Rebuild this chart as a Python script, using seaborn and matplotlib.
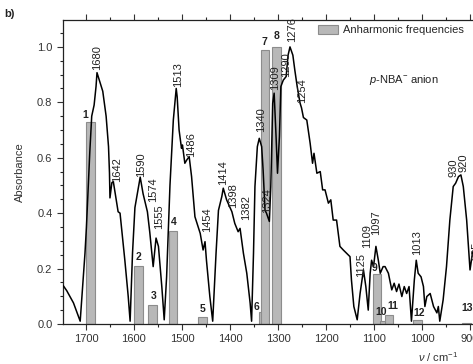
import numpy as np
import pandas as pd
import matplotlib
matplotlib.use("Agg")
import matplotlib.pyplot as plt
import seaborn as sns
from matplotlib.ticker import MultipleLocator
from matplotlib.patches import Patch

# ---------------- data ----------------
wavenumber = [1748, 1740, 1726, 1712, 1702, 1699, 1692, 1688, 1683, 1679, 1677, 1669, 1665,
              1658, 1653, 1651, 1650, 1646, 1643, 1637, 1633, 1629, 1626, 1619, 1612, 1608,
              1603, 1598, 1594, 1587, 1581, 1574, 1572, 1567, 1560, 1554, 1549, 1542, 1537,
              1532, 1525, 1518, 1512, 1510, 1506, 1501, 1499, 1494, 1490, 1485, 1480, 1473,
              1462, 1456, 1452, 1449, 1442, 1436, 1429, 1424, 1417, 1414, 1407, 1404, 1396,
              1390, 1383, 1379, 1372, 1365, 1358, 1355, 1351, 1348, 1343, 1339, 1334, 1331,
              1327, 1324, 1318, 1315, 1311, 1308, 1304, 1301, 1297, 1294, 1289, 1283, 1279,
              1275, 1269, 1265, 1260, 1254, 1251, 1247, 1240, 1233, 1228, 1225, 1219, 1212,
              1207, 1202, 1195, 1190, 1185, 1178, 1171, 1164, 1157, 1150, 1147, 1142, 1135,
              1129, 1122, 1117, 1112, 1108, 1105, 1101, 1096, 1091, 1087, 1081, 1077, 1070,
              1063, 1058, 1053, 1048, 1042, 1037, 1032, 1027, 1022, 1016, 1012, 1008, 1002,
              997, 994, 990, 983, 976, 969, 966, 963, 956, 949, 942, 935, 930, 924, 919, 914,
              907, 900, 895, 885]
absorbance = [0.14, 0.12, 0.076, 0.01, 0.256, 0.35, 0.62, 0.75, 0.79, 0.857, 0.907, 0.863, 0.84,
              0.75, 0.64, 0.545, 0.455, 0.51, 0.514, 0.448, 0.405, 0.40, 0.35, 0.23, 0.10, 0.01,
              0.256, 0.42, 0.46, 0.53, 0.47, 0.42, 0.405, 0.33, 0.207, 0.31, 0.28, 0.135, 0.015,
              0.17, 0.50, 0.736, 0.85, 0.82, 0.70, 0.634, 0.646, 0.58, 0.592, 0.604, 0.532, 0.387,
              0.327, 0.267, 0.297, 0.23, 0.10, 0.01, 0.256, 0.41, 0.46, 0.49, 0.448, 0.436, 0.405,
              0.363, 0.333, 0.345, 0.255, 0.183, 0.075, 0.01, 0.255, 0.496, 0.64, 0.67, 0.64, 0.556,
              0.41, 0.40, 0.37, 0.496, 0.797, 0.833, 0.676, 0.544, 0.676, 0.857, 0.88, 0.893, 0.97,
              1.0, 0.97, 0.917, 0.857, 0.797, 0.78, 0.745, 0.736, 0.652, 0.58, 0.616, 0.544, 0.55,
              0.484, 0.484, 0.436, 0.448, 0.375, 0.375, 0.28, 0.267, 0.255, 0.243, 0.159, 0.063, 0.015,
              0.11, 0.195, 0.135, 0.05, 0.183, 0.23, 0.207, 0.28, 0.23, 0.183, 0.207, 0.207, 0.183,
              0.123, 0.147, 0.117, 0.144, 0.099, 0.135, 0.11, 0.135, 0.01, 0.159, 0.23, 0.183, 0.17,
              0.135, 0.063, 0.099, 0.11, 0.063, 0.04, 0.063, 0.01, 0.087, 0.207, 0.375, 0.496, 0.508,
              0.532, 0.538, 0.496, 0.375, 0.195, 0.255, 0.30]

# anharmonic frequencies (bars)
bar_ids = ["1", "2", "3", "4", "5", "6", "7", "8", "9", "10", "11", "12", "13"]
bar_pos = [1691, 1591, 1561, 1519, 1457, 1331, 1327, 1303, 1094, 1079, 1069, 1010, 907]
bar_height = [0.73, 0.21, 0.069, 0.337, 0.024, 0.044, 0.99, 1.0, 0.18, 0.012, 0.033, 0.015, 0.005]
bar_label_x = [1702, 1590, 1560, 1517, 1458, 1345, 1329, 1304, 1100, 1086, 1061, 1005, 907]
bar_label_y = [0.736, 0.224, 0.083, 0.351, 0.036, 0.044, 1.0, 1.02, 0.183, 0.024, 0.048, 0.02, 0.04]

# peak annotations
peak_labels = ["1680", "1642", "1590", "1574", "1555", "1513", "1486", "1454", "1414", "1398",
               "1382", "1340", "1324", "1309", "1290", "1276", "1254", "1125", "1109", "1097",
               "1013", "930", "920", "905"]
peak_label_x = [1676, 1636, 1585, 1561, 1547, 1509, 1480, 1447, 1414, 1393,
                1367, 1336, 1322, 1307, 1284, 1270, 1250, 1127, 1114, 1095,
                1011, 934, 914, 887]
peak_label_y = [0.917, 0.514, 0.532, 0.44, 0.343, 0.857, 0.604, 0.333, 0.50, 0.42,
                0.375, 0.694, 0.40, 0.845, 0.893, 1.018, 0.797, 0.171, 0.273, 0.321,
                0.249, 0.532, 0.55, 0.23]

df = pd.DataFrame({"wavenumber": wavenumber, "absorbance": absorbance})

# ---------------- plot ----------------
sns.set_theme(style="ticks")
plt.rcParams["font.family"] = ["Liberation Sans", "DejaVu Sans"]
plt.rcParams["mathtext.fontset"] = "custom"
plt.rcParams["mathtext.it"] = "Liberation Sans:italic"
plt.rcParams["mathtext.rm"] = "Liberation Sans"

fig = plt.figure(figsize=(4.73, 3.64), dpi=100)
ax = fig.add_axes([0.133, 0.110, 0.881, 0.835])

ax.bar(bar_pos, bar_height, width=18, color="#b8b8b8", edgecolor="#8c8c8c",
       linewidth=0.8, zorder=1)
sns.lineplot(data=df, x="wavenumber", y="absorbance", ax=ax, color="black",
             linewidth=1.1, sort=False, zorder=3, estimator=None)

for t, x, y in zip(bar_ids, bar_label_x, bar_label_y):
    ax.text(x, y, t, ha="center", va="bottom", fontsize=7.5, fontweight="bold",
            color="#222222", zorder=4)
for t, x, y in zip(peak_labels, peak_label_x, peak_label_y):
    ax.text(x, y, t, ha="center", va="bottom", rotation=90, fontsize=8,
            color="#222222", zorder=4)

ax.set_xlim(1748, 880)
ax.set_ylim(0, 1.097)
ax.xaxis.set_major_locator(MultipleLocator(100))
ax.xaxis.set_minor_locator(MultipleLocator(50))
ax.yaxis.set_major_locator(MultipleLocator(0.2))
ax.yaxis.set_minor_locator(MultipleLocator(0.05))
ax.yaxis.set_major_formatter(matplotlib.ticker.FormatStrFormatter("%.1f"))
ax.tick_params(axis="both", which="major", direction="out", length=4, width=0.8,
               labelsize=8, colors="#333333", top=True, labeltop=False)
ax.tick_params(axis="both", which="minor", direction="out", length=2.5, width=0.8,
               top=True)
for s in ["left", "top", "bottom"]:
    ax.spines[s].set_visible(True)
    ax.spines[s].set_linewidth(0.9)
    ax.spines[s].set_color("#222222")
ax.spines["right"].set_visible(False)

ax.set_xlabel(r"$\nu$ / cm$^{-1}$", fontsize=8, color="#333333")
ax.xaxis.set_label_coords(0.9, -0.085)
ax.set_ylabel("Absorbance", fontsize=8, color="#333333")
ax.yaxis.set_label_coords(-0.092, 0.5)

ax.text(1037, 0.88, r"$p$-NBA$^{-}$ anion", ha="center", va="center", fontsize=8,
        color="#222222")

handle = Patch(facecolor="#b8b8b8", edgecolor="#8c8c8c", linewidth=0.8)
ax.legend([handle], ["Anharmonic frequencies"], loc="upper left",
          bbox_to_anchor=(0.612, 0.985), frameon=False, fontsize=8,
          handlelength=1.8, handleheight=0.9, handletextpad=0.5,
          borderaxespad=0, borderpad=0)

fig.text(0.01, 0.975, "b)", fontsize=8, fontweight="bold", va="top", ha="left",
         color="#222222")

fig.savefig("out.png", dpi=100)
